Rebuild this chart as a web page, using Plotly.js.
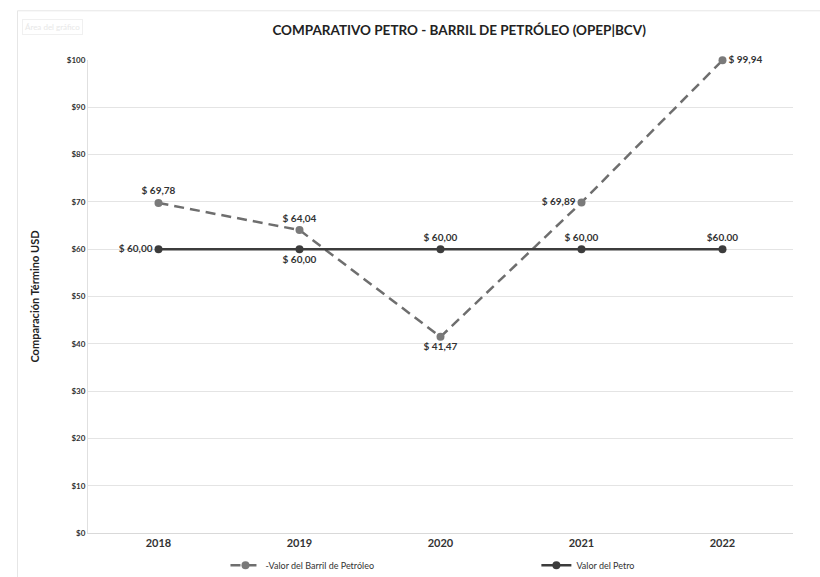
<!DOCTYPE html>
<html>
<head>
<meta charset="utf-8">
<script src="https://cdn.plot.ly/plotly-3.0.1.min.js"></script>
<style>
html,body{margin:0;padding:0;background:#fff;}
#chart{width:820px;height:577px;}
</style>
</head>
<body>
<div id="chart"></div>
<script>
const years = ['2018', '2019', '2020', '2021', '2022'];
const barrilValues = [69.78, 64.04, 41.47, 69.89, 99.94];
const petroValues = [60, 60, 60, 60, 60];
const barrilLabels = ['$ 69,78', '$ 64,04', '$ 41,47', '$ 69,89', '$ 99,94'];
const petroLabels = ['$ 60,00', '$ 60,00', '$ 60,00', '$ 60,00', '$60.00'];
const barrilPositions = ['top center', 'top center', 'bottom center', 'middle left', 'middle right'];
const petroPositions = ['middle left', 'bottom center', 'top center', 'top center', 'top center'];
const yTicks = [0, 10, 20, 30, 40, 50, 60, 70, 80, 90, 100];
const yTickText = yTicks.map(v => '$' + v);

const FONT = 'Lato, sans-serif';

const barril = {
  x: years, y: barrilValues, type: 'scatter', mode: 'lines+markers+text',
  name: '-Valor del Barril de Petróleo',
  line: {color: '#6e6e6e', width: 2.5, dash: '10px,6px'},
  marker: {color: '#7a7a7a', size: 8},
  text: barrilLabels, textposition: barrilPositions,
  textfont: {family: FONT, size: 10, color: '#333', weight: 'bold'},
  cliponaxis: false, legend: 'legend'
};
const petro = {
  x: years, y: petroValues, type: 'scatter', mode: 'lines+markers+text',
  name: 'Valor del Petro',
  line: {color: '#3c3c3c', width: 2.5},
  marker: {color: '#3c3c3c', size: 8},
  text: petroLabels, textposition: petroPositions,
  textfont: {family: FONT, size: 10, color: '#333', weight: 'bold'},
  cliponaxis: false, legend: 'legend2'
};

const layout = {
  width: 820, height: 577,
  margin: {l: 88, r: 27, t: 60, b: 44, autoexpand: false},
  paper_bgcolor: '#fff', plot_bgcolor: '#fff',
  font: {family: FONT, color: '#333'},
  title: {text: '<b>COMPARATIVO PETRO - BARRIL DE PETRÓLEO (OPEP|BCV)</b>',
          font: {family: FONT, size: 13.5, color: '#222'}, x: 0.56, xanchor: 'center', y: 0.948, yanchor: 'middle'},
  xaxis: {type: 'category', range: [-0.5, 4.5], showgrid: false, zeroline: false,
          showline: true, linecolor: '#d9d9d9', ticks: 'outside', ticklen: 0,
          tickfont: {family: FONT, size: 11, color: '#333', weight: 'bold'}},
  yaxis: {range: [0, 100], tickmode: 'array', tickvals: yTicks, ticktext: yTickText, showgrid: true, gridcolor: '#e4e4e4',
          zeroline: false, showline: true, linecolor: '#e0e0e0',
          tickfont: {family: FONT, size: 8, color: '#333', weight: 'bold'},
          title: {text: '<b>Comparación Término USD</b>', font: {family: FONT, size: 11, color: '#222'}, standoff: 24}},
  showlegend: true,
  legend: {orientation: 'h', x: 0.195, xanchor: 'left', y: -0.068, yanchor: 'middle',
           font: {family: FONT, size: 9, color: '#333'}, bgcolor: 'rgba(0,0,0,0)', itemwidth: 30},
  legend2: {orientation: 'h', x: 0.636, xanchor: 'left', y: -0.068, yanchor: 'middle',
           font: {family: FONT, size: 9, color: '#333'}, bgcolor: 'rgba(0,0,0,0)', itemwidth: 30},
  shapes: [
    {type: 'rect', xref: 'paper', yref: 'paper', x0: -0.1, x1: 1.1, y0: -0.2, y1: 1.104,
     line: {color: '#e6e6e6', width: 1}, fillcolor: 'rgba(0,0,0,0)', layer: 'below'}
  ],
  annotations: [
    {xref: 'paper', yref: 'paper', x: -0.093, y: 1.07, xanchor: 'left', yanchor: 'middle',
     text: 'Área del gráfico', showarrow: false, font: {family: FONT, size: 8, color: '#e8e8e8'},
     bordercolor: '#f0f0f0', borderwidth: 1, borderpad: 2}
  ]
};

Plotly.newPlot('chart', [barril, petro], layout, {displayModeBar: false, staticPlot: true});
</script>
</body>
</html>
